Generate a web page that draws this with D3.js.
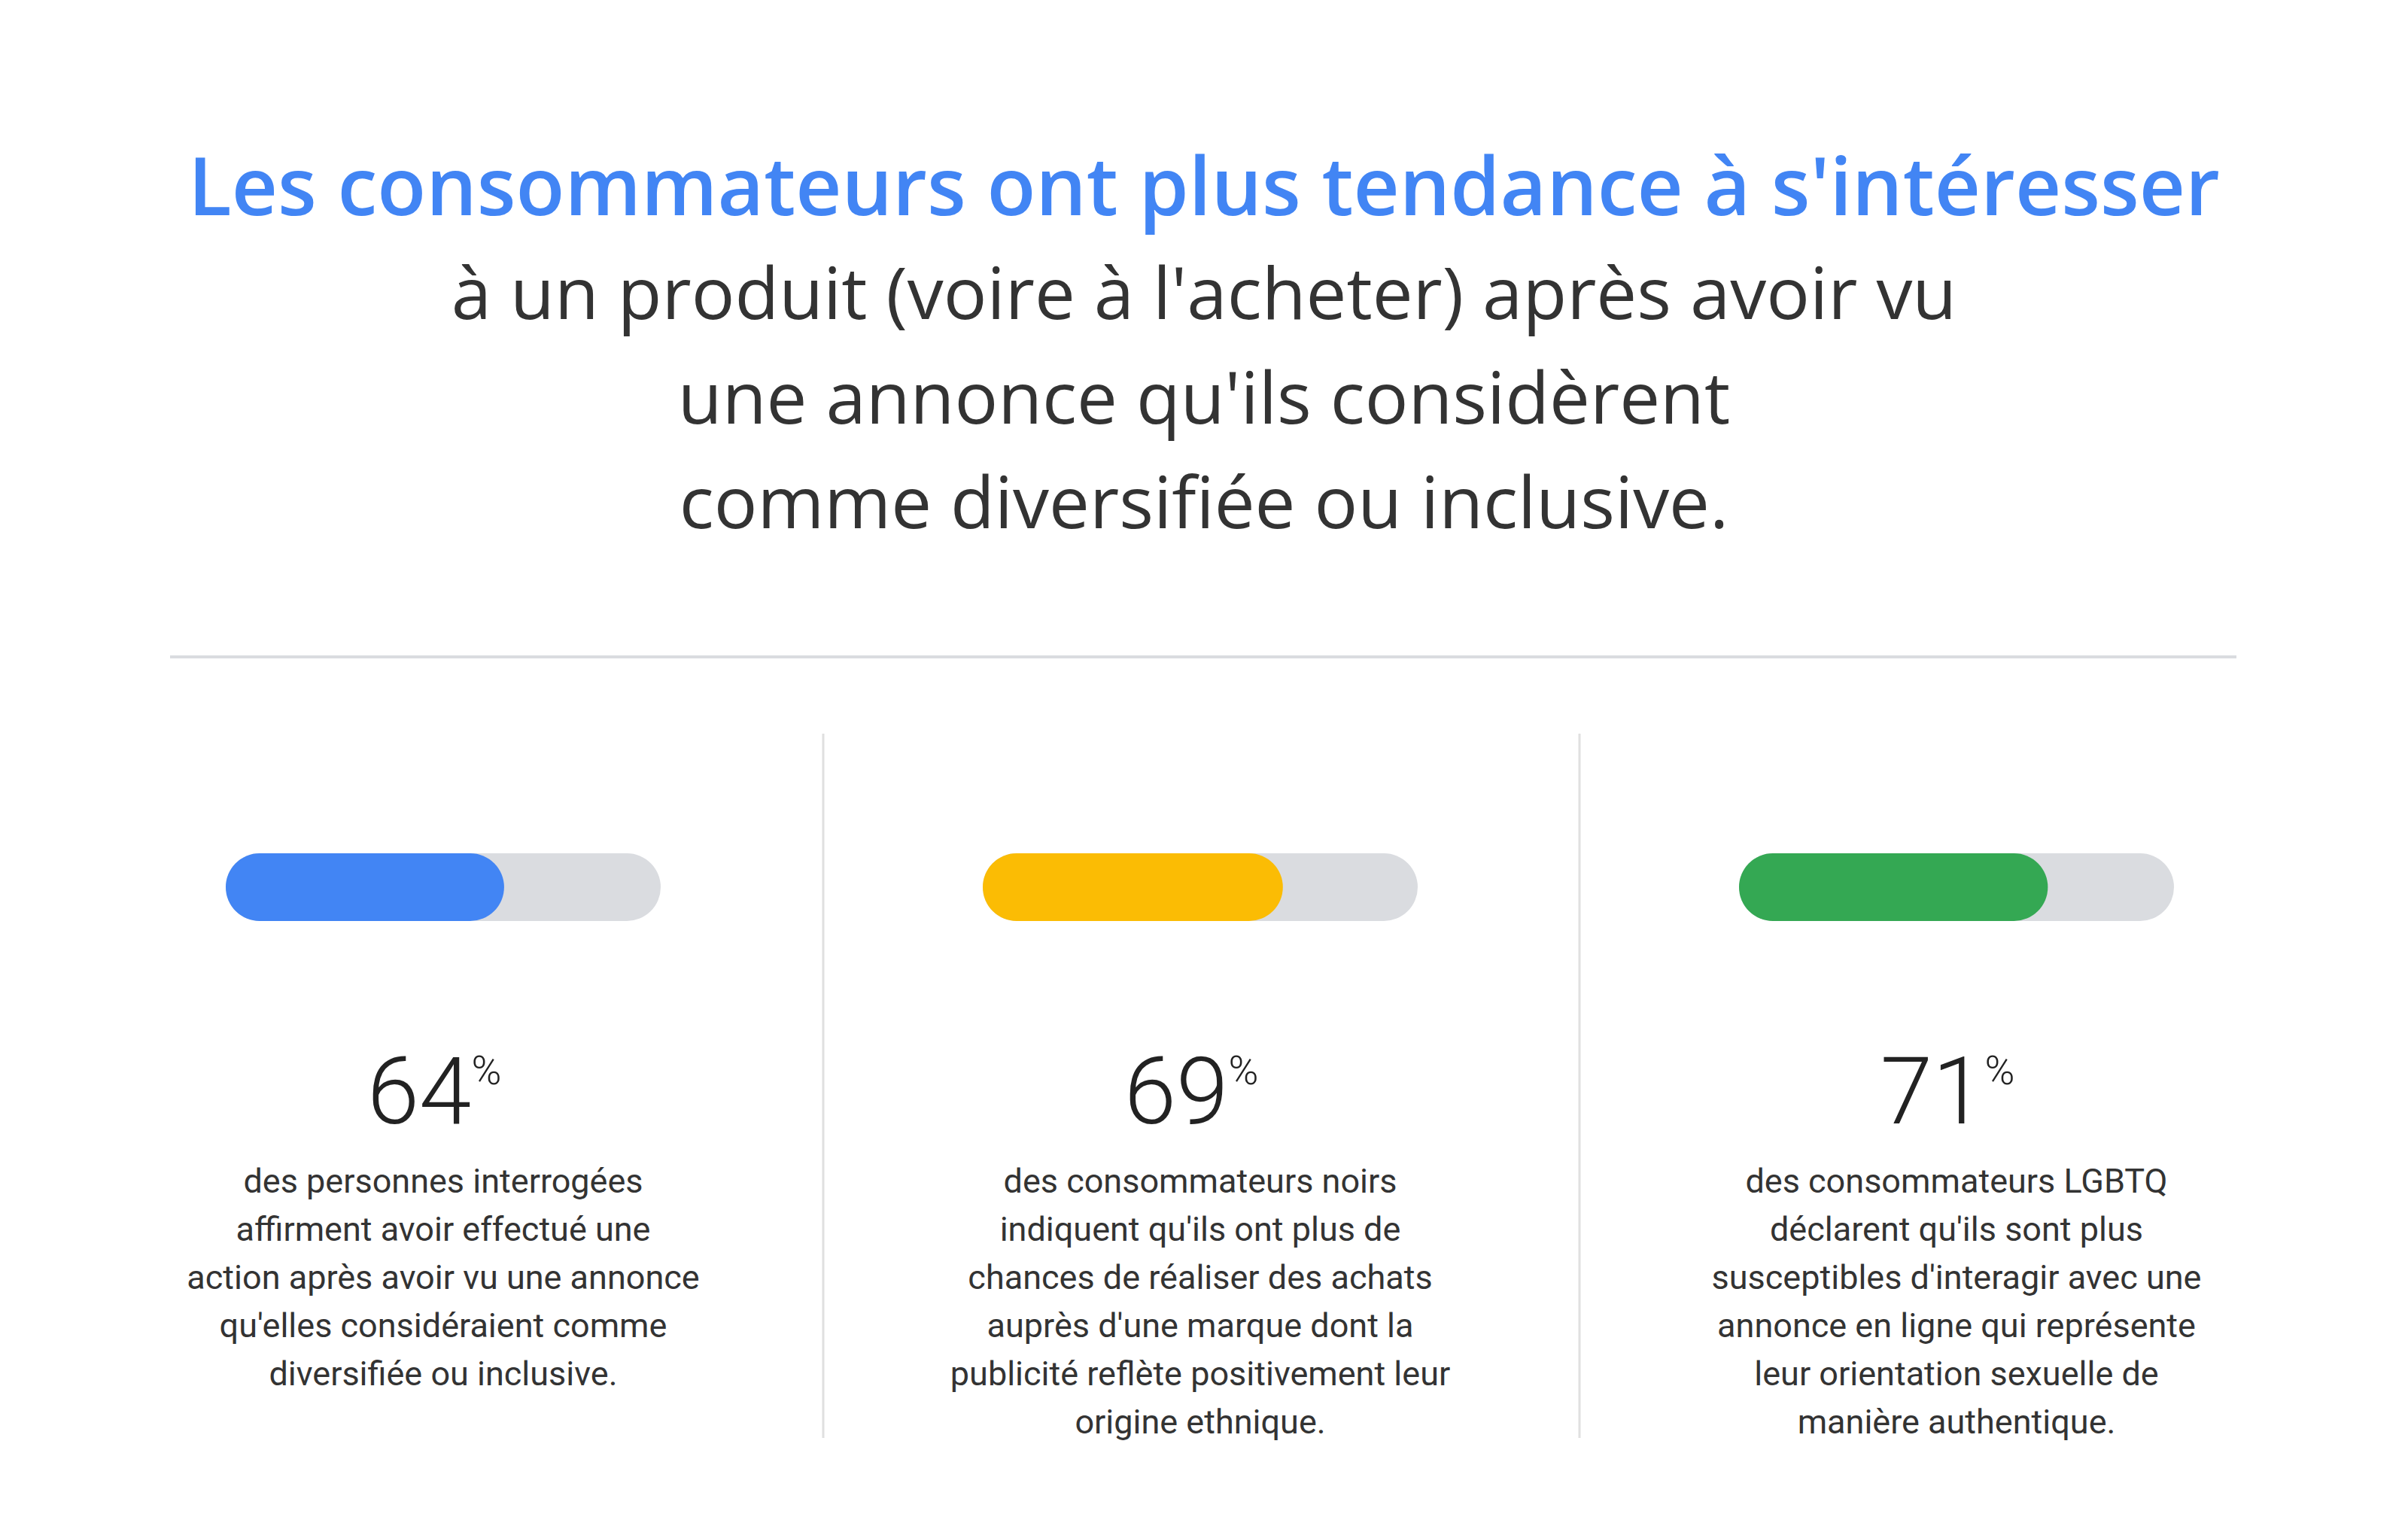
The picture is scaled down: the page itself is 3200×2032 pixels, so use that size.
<!DOCTYPE html>
<html><head><meta charset="utf-8">
<script src="https://cdn.jsdelivr.net/npm/d3@7"></script>
<style>body{margin:0;background:#fff}</style>
</head><body><div id="chart"></div>
<script>
var titleBold = "Les consommateurs ont plus tendance à s'intéresser";
var titleLines = ["à un produit (voire à l'acheter) après avoir vu", "une annonce qu'ils considèrent", "comme diversifiée ou inclusive."];
var values = [64, 69, 71];
var colors = ["#4285F4", "#FBBC04", "#34A853"];
var descriptions = [
  ["des personnes interrogées", "affirment avoir effectué une", "action après avoir vu une annonce", "qu'elles considéraient comme", "diversifiée ou inclusive."],
  ["des consommateurs noirs", "indiquent qu'ils ont plus de", "chances de réaliser des achats", "auprès d'une marque dont la", "publicité reflète positivement leur", "origine ethnique."],
  ["des consommateurs LGBTQ", "déclarent qu'ils sont plus", "susceptibles d'interagir avec une", "annonce en ligne qui représente", "leur orientation sexuelle de", "manière authentique."]
];

var width = 3200, height = 2032;
var svg = d3.select("#chart").append("svg").attr("width", width).attr("height", height);

// title
var t1 = svg.append("text").attr("x", 1600).attr("y", 286).attr("text-anchor", "middle")
  .attr("font-family", "Open Sans").attr("font-weight", 600).attr("font-size", 106)
  .attr("fill", "#4285F4").text(titleBold);
var w = t1.node().getComputedTextLength();
t1.attr("font-size", 106 * 2700 / w);

titleLines.forEach(function(l, i){
  svg.append("text").attr("x", 1600).attr("y", 424 + i * 139).attr("text-anchor", "middle")
    .attr("font-family", "Open Sans").attr("font-size", 96).attr("fill", "#333").text(l);
});

svg.append("line").attr("x1", 226).attr("x2", 2972).attr("y1", 873).attr("y2", 873)
  .attr("stroke", "#dadce0").attr("stroke-width", 4);

[1094, 2099].forEach(function(x){
  svg.append("line").attr("x1", x).attr("x2", x).attr("y1", 975).attr("y2", 1911)
    .attr("stroke", "#e0e0e0").attr("stroke-width", 3);
});

var trackStarts = [300, 1306, 2311];
var trackW = 578, barH = 90, barY = 1134;
var x = d3.scaleLinear().domain([0, 100]).range([0, trackW]);

var cols = svg.selectAll("g.col").data(values).enter().append("g")
  .attr("transform", function(d, i){ return "translate(" + trackStarts[i] + ",0)"; });

cols.append("rect").attr("x", 0).attr("y", barY).attr("width", x(100)).attr("height", barH)
  .attr("rx", barH / 2).attr("fill", "#dadce0");
cols.append("rect").attr("x", 0).attr("y", barY).attr("width", function(d){ return x(d); }).attr("height", barH)
  .attr("rx", barH / 2).attr("fill", function(d, i){ return colors[i]; });

var num = cols.append("text").attr("x", trackW / 2 - 12).attr("y", 1493).attr("text-anchor", "middle")
  .attr("font-family", "Roboto").attr("font-weight", 300).attr("font-size", 125).attr("fill", "#222");
num.append("tspan").text(function(d){ return d; });
num.append("tspan").attr("font-size", 54).attr("dy", -52).text("%");

cols.each(function(d, i){
  var g = d3.select(this);
  descriptions[i].forEach(function(l, j){
    g.append("text").attr("x", trackW / 2).attr("y", 1585 + j * 64).attr("text-anchor", "middle")
      .attr("font-family", "Roboto").attr("font-size", 45).attr("fill", "#333").text(l);
  });
});
</script></body></html>
